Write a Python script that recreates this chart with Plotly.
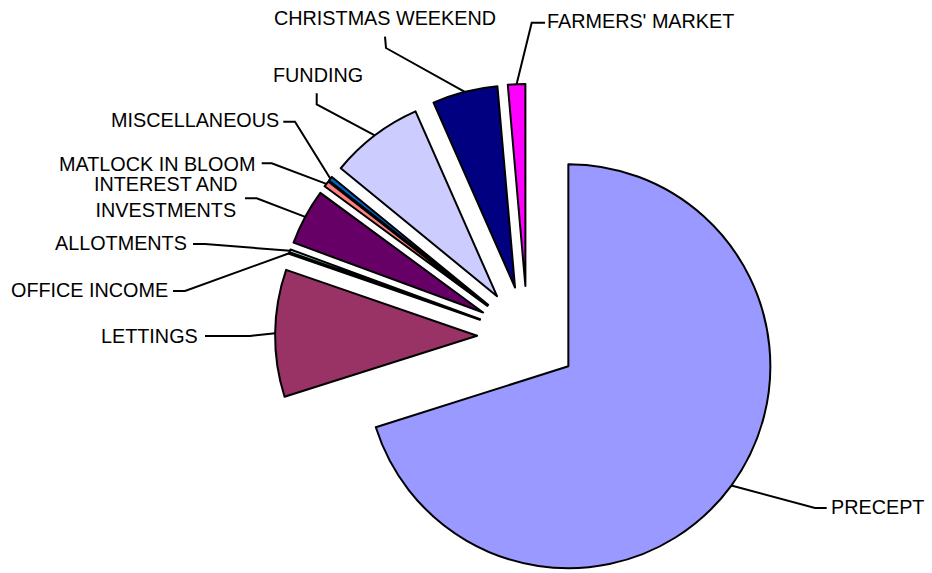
import math
import plotly.graph_objects as go

# ---- data ----
categories = ["PRECEPT", "LETTINGS", "OFFICE INCOME", "ALLOTMENTS",
              "INTEREST AND<br>INVESTMENTS", "MATLOCK IN BLOOM", "MISCELLANEOUS",
              "FUNDING", "CHRISTMAS WEEKEND", "FARMERS' MARKET"]
values = [70.10, 10.17, 0.11, 0.22, 4.47, 0.47, 0.36, 7.47, 5.22, 1.39]
colors = ["#9999FF", "#993366", "#FFFFCC", "#CCFFFF", "#660066",
          "#FF8080", "#0066CC", "#CCCCFF", "#000080", "#FF00FF"]

# ---- layout / geometry (pixels) ----
W, H = 932, 600
CX, CY, R, PULL = 527.6, 336.4, 202.0, 0.25
HALF = R * (1 + PULL)
FONT = dict(family="Liberation Sans, Arial, sans-serif", size=19.8, color="black")

# label placement: (x, y, xanchor, leader points from label to elbow)
label_pos = [
    (828.5, 507.0, "left",   [(826.7, 508), (815, 508)]),
    (200.0, 336.3, "right",  [(205, 336), (250, 336)]),
    (169.5, 290.3, "right",  [(173, 291), (185, 291)]),
    (188.5, 243.3, "right",  [(193, 244), (205, 244)]),
    (166.3, 197.3, "center", [(245, 198.3), (256.7, 198.3)]),
    (257.0, 163.7, "right",  [(261.7, 163.3), (271.7, 163.3)]),
    (280.5, 120.0, "right",  [(283.3, 121.7), (295, 121.7)]),
    (317.5, 75.0,  "center", [(316.7, 93.3), (316.7, 104.3)]),
    (385.3, 17.5,  "center", [(385, 36.7), (386, 48)]),
    (544.5, 20.5,  "left",   [(545, 22.7), (531.7, 22.7)]),
]

fig = go.Figure()
fig.add_trace(go.Pie(
    labels=categories, values=values, sort=False, direction="clockwise",
    rotation=0, pull=[PULL] * len(values), textinfo="none", hoverinfo="label+percent",
    marker=dict(colors=colors, line=dict(color="black", width=2)),
    domain=dict(x=[(CX - HALF) / W, (CX + HALF) / W],
                y=[1 - (CY + HALF) / H, 1 - (CY - HALF) / H]),
    showlegend=False,
))

# leader lines: end at the outer edge of each slice (from the data)
total = sum(values)
cum = 0.0
lx, ly = [], []
annotations = []
for cat, v, (tx, ty, anchor, pts) in zip(categories, values, label_pos):
    mid = (cum + v / 2) / total * 2 * math.pi
    cum += v
    ex = CX + HALF * math.sin(mid)
    ey = CY - HALF * math.cos(mid)
    for (px, py) in pts:
        lx.append(px); ly.append(py)
    lx += [ex, None]; ly += [ey, None]
    annotations.append(dict(x=tx, y=ty, xref="x", yref="y", text=cat,
                            xanchor=anchor, yanchor="middle", align="center",
                            showarrow=False, font=FONT))

fig.add_trace(go.Scatter(x=lx, y=ly, mode="lines", line=dict(color="black", width=2),
                         hoverinfo="skip", showlegend=False))

fig.update_layout(
    width=W, height=H, margin=dict(l=0, r=0, t=0, b=0),
    paper_bgcolor="white", plot_bgcolor="rgba(0,0,0,0)",
    xaxis=dict(range=[0, W], visible=False, fixedrange=True),
    yaxis=dict(range=[H, 0], visible=False, fixedrange=True),
    annotations=annotations,
)

fig.write_html("out.html", config={"displayModeBar": False},
               post_script="document.documentElement.style.overflow='hidden';"
                           "document.body.style.overflow='hidden';"
                           "document.body.style.margin='0';")
